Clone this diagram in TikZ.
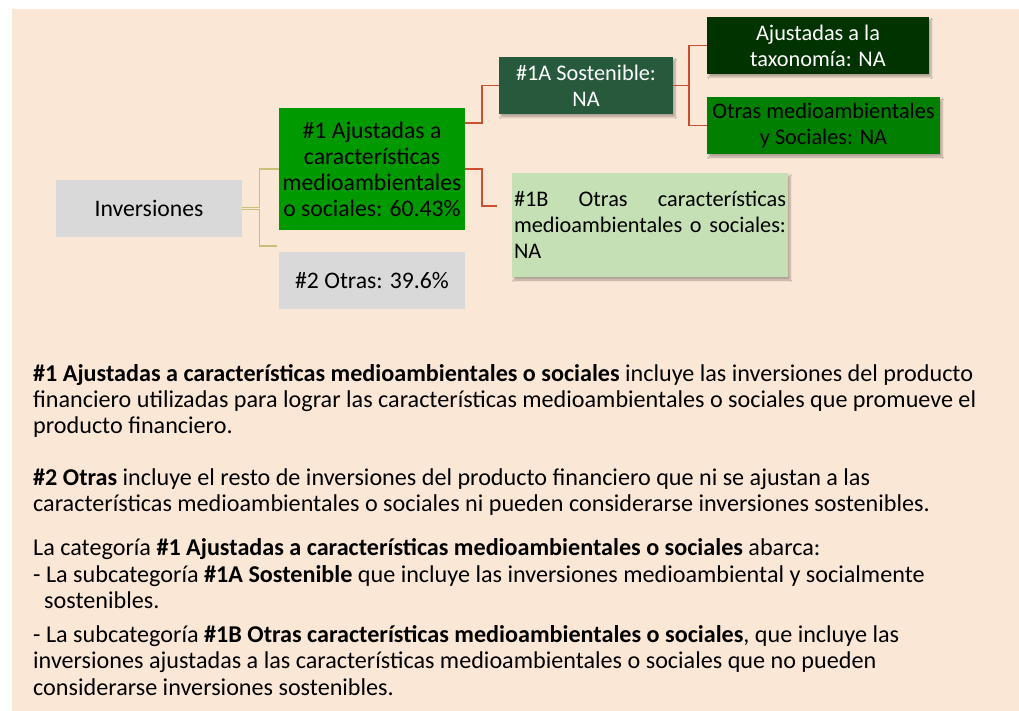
\documentclass[tikz,border=0pt]{standalone}
\usepackage{fontspec}
\setmainfont{Carlito}
\usepackage{xcolor}
\usetikzlibrary{shadows,shadows.blur}
\definecolor{paper}{HTML}{FBE7D6}
\definecolor{grey}{HTML}{D9D9D9}
\definecolor{green1}{HTML}{009900}
\definecolor{green1a}{HTML}{275A3C}
\definecolor{greentax}{HTML}{003300}
\definecolor{greenoma}{HTML}{007F00}
\definecolor{green1b}{HTML}{C5E0B4}
\definecolor{rust}{HTML}{C8502F}
\definecolor{olive}{HTML}{C8BF78}
\tikzset{
  big/.style={inner sep=0pt, align=center, font=\fontsize{23.7}{26}\selectfont},
  small/.style={inner sep=0pt, align=center, font=\fontsize{22.3}{26}\selectfont,
    blur shadow={shadow xshift=2pt, shadow yshift=-3pt, shadow blur steps=6, shadow opacity=30}},
  olv/.style={draw=olive, line width=1.4pt},
  rst/.style={draw=rust, line width=1.8pt},
  para/.style={anchor=base west, inner sep=0pt, align=left, font=\fontsize{24.15}{26}\selectfont},
}
\begin{document}
\begin{tikzpicture}[x=1pt, y=-1pt]
  \useasboundingbox (0,0) rectangle (1019,711);
  \fill[paper] (12,9) rectangle (1019,711);
  \node[big, fill=grey, minimum width=186pt, minimum height=57pt] (inv) at (149,208.5) {Inversiones};
  \node[big, fill=green1, minimum width=186pt, minimum height=122pt] (g1) at (372,169)
    {\#1 Ajustadas a\\características\\medioambientales\\o sociales: 60.43\%};
  \node[big, fill=grey, minimum width=186pt, minimum height=57pt] (g2) at (372,280.5) {\#2 Otras: 39.6\%};
  \node[small, fill=green1a, text=white, minimum width=174pt, minimum height=57pt] (s1a) at (586,85.5)
    {\#1A Sostenible:\\NA};
  \node[small, fill=greentax, text=white, minimum width=222pt, minimum height=57pt] (tax) at (818,45.5)
    {Ajustadas a la\\taxonomía: NA};
  \node[small, fill=greenoma, minimum width=233pt, minimum height=57pt] (oma) at (823.5,125.5)
    {Otras medioambientales\\y Sociales: NA};
  \node[small, fill=green1b, minimum width=276pt, minimum height=104pt, text width=272pt, align=justify] (s1b) at (650,225)
    {\hyphenpenalty=10000 \#1B Otras características medioambientales o sociales: NA};
  \coordinate (e2) at (277,246);
  \coordinate (e1b) at (497,206);
  \draw[olv] ([yshift=1pt]inv.east) -- ++(17,0) |- (g1.west);
  \draw[olv] ([yshift=-1pt]inv.east) -- ++(17,0) |- (e2);
  \draw[rst] ([yshift=-15pt]g1.north east) -- ++(17,0) |- (s1a.west);
  \draw[rst] (g1.east) -- ++(17,0) |- (e1b);
  \draw[rst] (s1a.east) -- ++(16,0) |- (tax.west);
  \draw[rst] (s1a.east) -- ++(16,0) |- (oma.west);
  \node[para] (p1) at (33,433)
    {\textbf{\#1 Ajustadas a características medioambientales o sociales} incluye las inversiones del producto\\
     financiero utilizadas para lograr las características medioambientales o sociales que promueve el\\
     producto financiero.};
  \node[para] (p2) at (33,511)
    {\textbf{\#2 Otras} incluye el resto de inversiones del producto financiero que ni se ajustan a las\\
     características medioambientales o sociales ni pueden considerarse inversiones sostenibles.};
  \node[para, font=\fontsize{24.15}{26.5}\selectfont] (p3) at (33,695)
    {La categoría \textbf{\#1 Ajustadas a características medioambientales o sociales} abarca:\\
     - La subcategoría \textbf{\#1A Sostenible} que incluye las inversiones medioambiental y socialmente\\
     \hspace*{11pt}sostenibles.\\[7pt]
     - La subcategoría \textbf{\#1B Otras características medioambientales o sociales}, que incluye las\\
     inversiones ajustadas a las características medioambientales o sociales que no pueden\\
     considerarse inversiones sostenibles.};
\end{tikzpicture}
\end{document}
